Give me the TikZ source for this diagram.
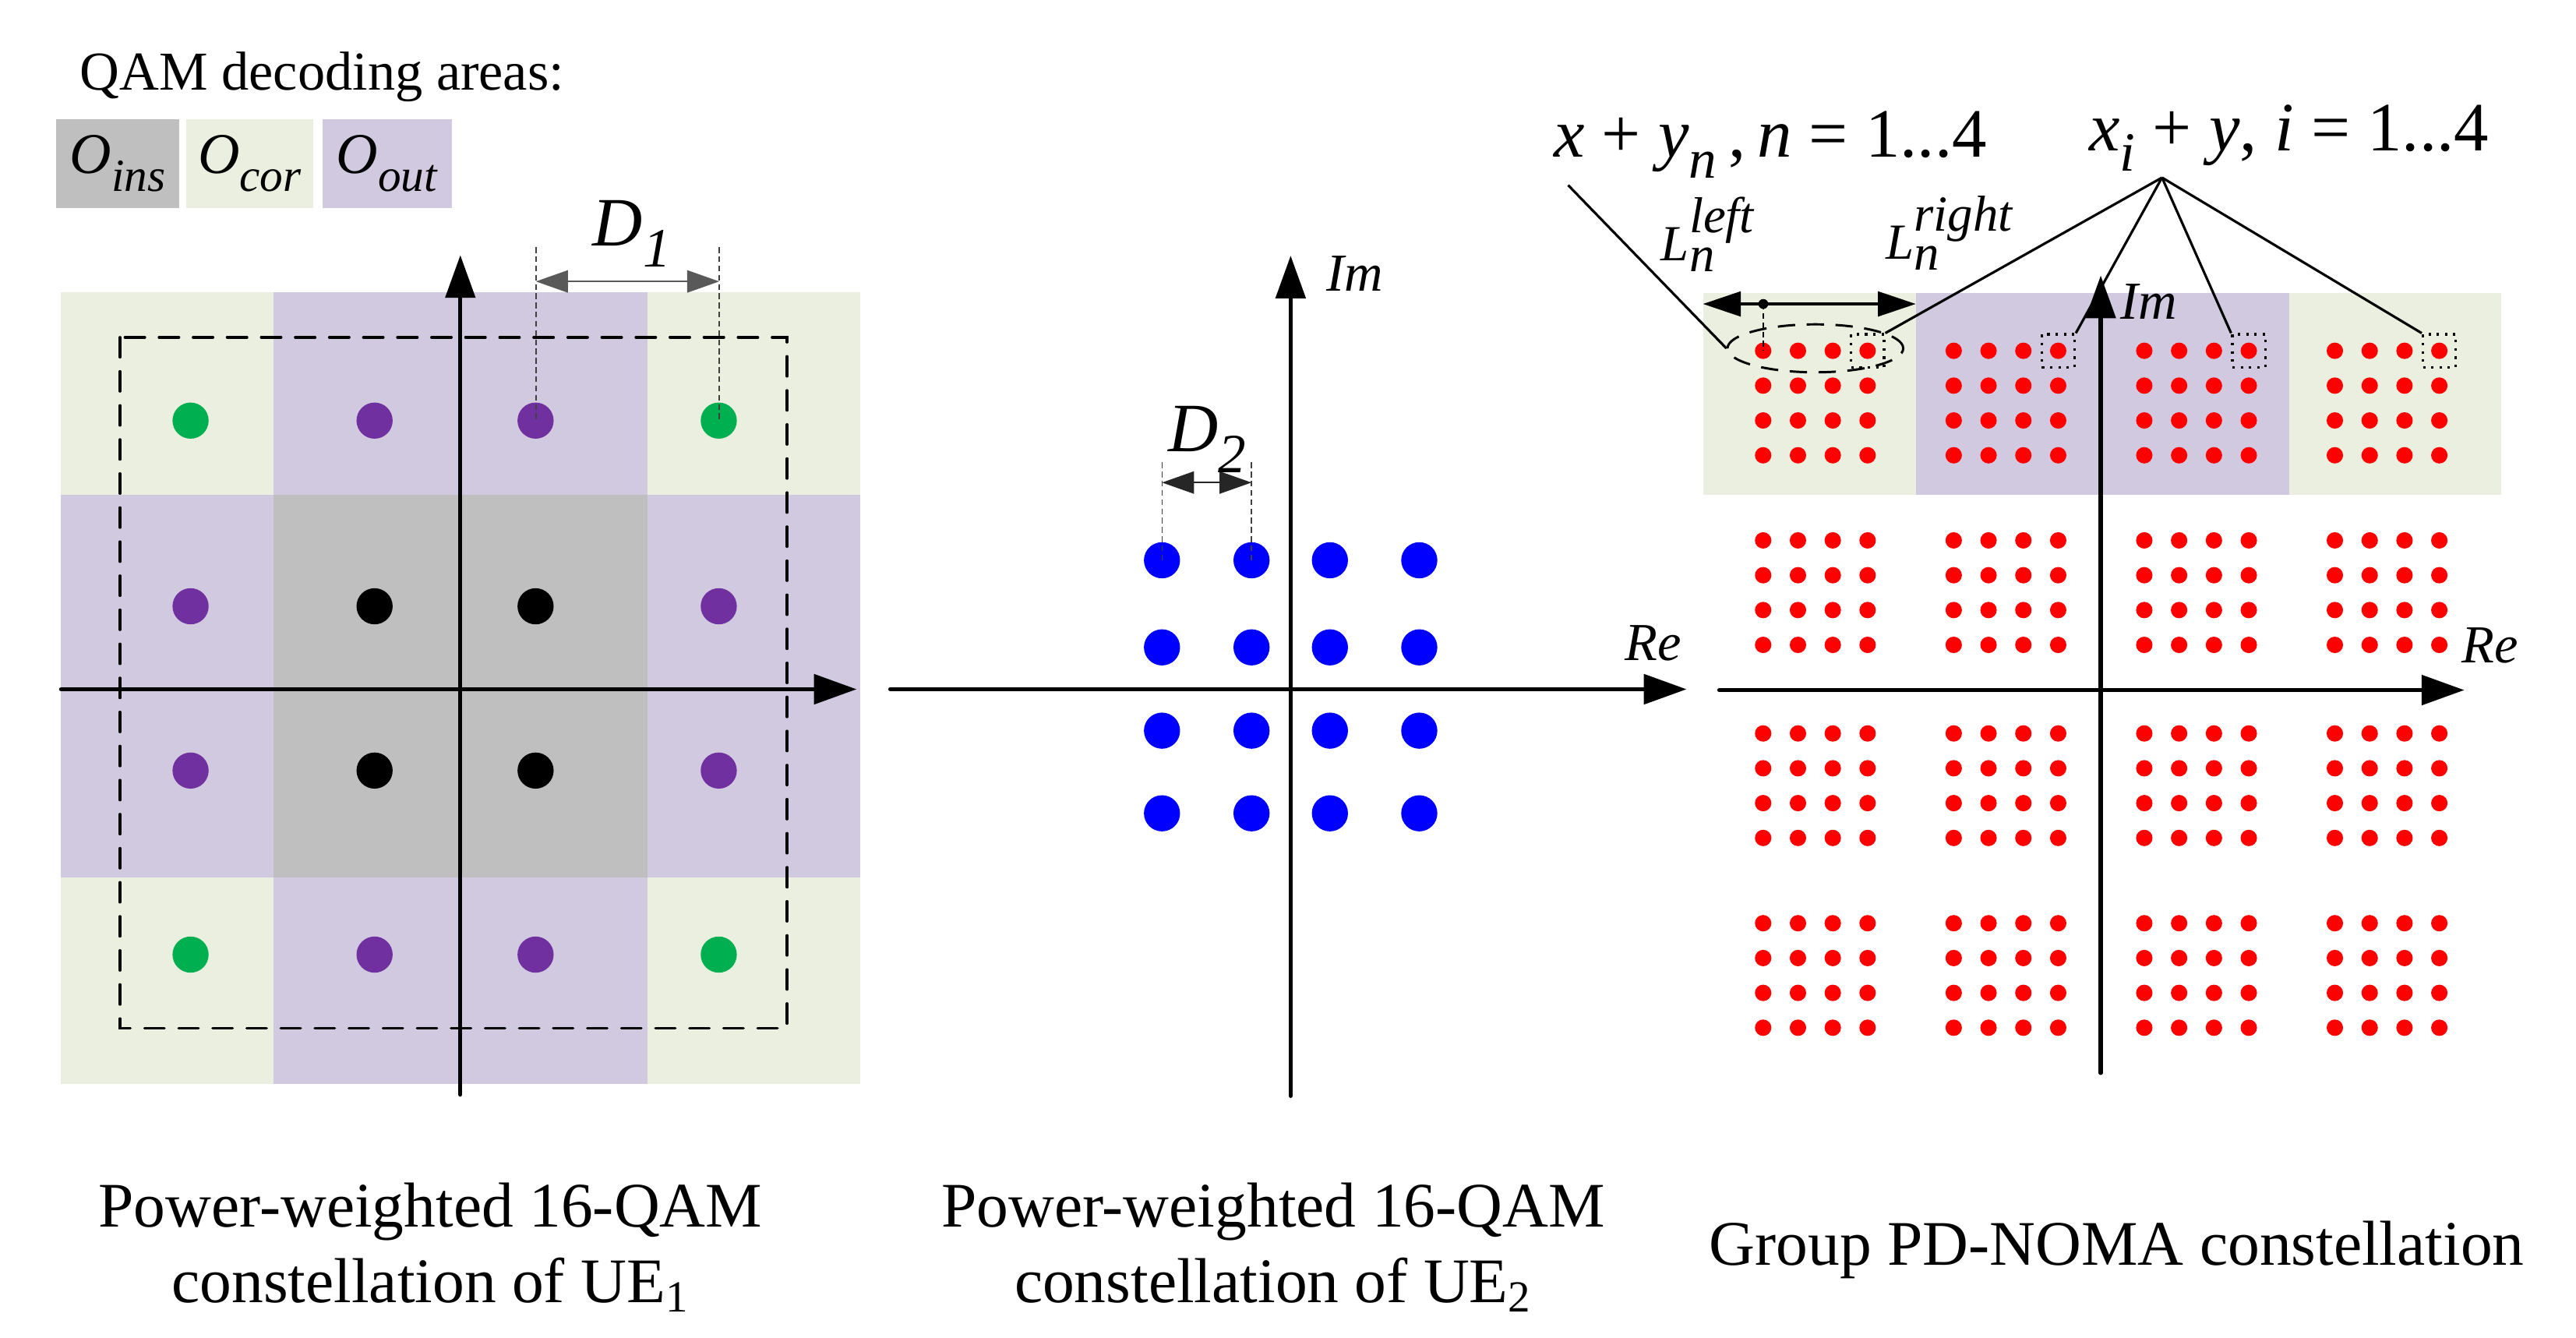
\documentclass[tikz,border=0pt]{standalone}
\usepackage{fontspec}
\setmainfont{Liberation Serif}
\usetikzlibrary{arrows.meta,shapes.geometric}

\definecolor{areaIns}{HTML}{BFBFBF}
\definecolor{areaCor}{HTML}{EBEFDF}
\definecolor{areaOut}{HTML}{D1C9DF}
\definecolor{dotGreen}{HTML}{00B050}
\definecolor{dotPurple}{HTML}{7030A0}

\newcommand{\lowtext}[1]{\raisebox{-0.3em}{\scalebox{0.8}{#1}}}

\begin{document}
\begin{tikzpicture}[x=0.02cm, y=-0.02cm,
    axis/.style={line width=0.05cm, line cap=round, -{Triangle[length=0.52cm,width=0.36cm]}},
    dimline/.style={line width=0.02cm, draw=black!65,
        {Triangle[length=0.39cm,width=0.27cm]}-{Triangle[length=0.39cm,width=0.27cm]}},
    guide/.style={draw=black!75, line width=0.4pt, dash pattern=on 2pt off 1.2pt},
    decbox/.style={line width=0.032cm, line cap=round, dash pattern=on 6.9pt off 4.9pt},
    leader/.style={line width=0.03cm},
    selbox/.style={draw, line width=0.03cm, dotted, minimum size=0.4cm, inner sep=0pt},
    grpell/.style={draw, ellipse, line width=0.028cm, dash pattern=on 6pt off 4pt,
        minimum width=2.14cm, minimum height=0.584cm, inner sep=0pt},
    lspan/.style={line width=0.035cm,
        {Triangle[length=0.46cm,width=0.30cm]}-{Triangle[length=0.46cm,width=0.30cm]}},
    legbox/.style={minimum height=1.08cm, inner sep=0pt, font=\fontsize{20}{24}\selectfont},
    lblbig/.style={inner sep=0pt, anchor=base west, font=\fontsize{24}{28}\selectfont},
    lblax/.style={inner sep=0pt, anchor=base west, font=\fontsize{18.5}{22}\selectfont},
    lblL/.style={inner sep=0pt, anchor=base west, font=\fontsize{17.5}{21}\selectfont},
    caption/.style={inner sep=0pt, anchor=base, align=center, font=\fontsize{22}{26.4}\selectfont}
]
\useasboundingbox (0,0) rectangle (1568,814);

% legend of the decoding areas
\path (48.3,54.6) node[inner sep=0pt, anchor=base west, font=\fontsize{19}{23}\selectfont] (head) {QAM decoding areas:};
\node[legbox, fill=areaIns, minimum width=1.494cm] (oIns) at (71.7,99.5) {\textit{O}\lowtext{\textit{ins}}};
\node[legbox, fill=areaCor, minimum width=1.546cm] (oCor) at (152,99.5) {\textit{O}\lowtext{\textit{cor}}};
\node[legbox, fill=areaOut, minimum width=1.572cm] (oOut) at (235.6,99.5) {\textit{O}\lowtext{\textit{out}}};

% UE1 constellation
\fill[areaCor] (37.2,178) rectangle (523.4,659.7);
\fill[areaOut] (166.5,178) rectangle (394.2,659.7);
\fill[areaOut] (37.2,301.2) rectangle (523.4,534);
\fill[areaIns] (166.5,301.2) rectangle (394.2,534);
\draw[decbox] (73,205.3) rectangle (479.1,625.7);

\foreach \x/\y/\c in {116/256/dotGreen, 228/256/dotPurple, 326/256/dotPurple, 437.5/256/dotGreen,
                      116/369/dotPurple, 228/369/black, 326/369/black, 437.5/369/dotPurple,
                      116/469/dotPurple, 228/469/black, 326/469/black, 437.5/469/dotPurple,
                      116/581/dotGreen, 228/581/dotPurple, 326/581/dotPurple, 437.5/581/dotGreen}
{
    \fill[\c] (\x,\y) circle (0.22cm);
}

\draw[axis] (280.2,666.2) -- (280.2,155.3);
\draw[axis] (37.2,419.5) -- (521.4,419.5);

\draw[guide] (326.2,150.4) -- (326.2,256);
\draw[guide] (437.8,150.4) -- (437.8,256);
\draw[dimline] (326.2,171.3) -- (437.8,171.3);
\path (360.5,149.8) node[lblbig] (dA) {\textit{D}\lowtext{\textit{1}}};

% UE2 constellation
\foreach \x in {707.3, 761.8, 809.5, 863.9}
{
    \foreach \y in {341, 394, 444.7, 495}
    {
        \fill[blue] (\x,\y) circle (0.22cm);
    }
}

\draw[axis] (541.9,419.5) -- (1026.6,419.5);
\draw[axis] (785.6,667) -- (785.6,155.6);

\draw[guide] (707.3,281.4) -- (707.3,341);
\draw[guide] (761.8,281.4) -- (761.8,341);
\draw[dimline, draw=black!85] (707.3,293.7) -- (761.8,293.7);
\path (710.6,275) node[lblbig] (dB) {\textit{D}\lowtext{\textit{2}}};

\path (807,177) node[lblax] (imB) {\textit{Im}};
\path (988.6,402) node[lblax] (reB) {\textit{Re}};

% group PD-NOMA constellation
\fill[areaCor] (1036.6,178.2) rectangle (1522.6,301);
\fill[areaOut] (1166.1,178.2) rectangle (1393.5,301);

\foreach \cx in {1105, 1221, 1337, 1453}
{
    \foreach \cy in {245.3, 360.7, 478.2, 593.7}
    {
        \foreach \dx in {-31.8, -10.6, 10.6, 31.8}
        {
            \foreach \dy in {-31.8, -10.6, 10.6, 31.8}
            {
                \fill[red] (\cx+\dx,\cy+\dy) circle (0.1cm);
            }
        }
    }
}

\draw[axis] (1046.5,420) -- (1500,420);
\draw[axis] (1278.7,653) -- (1278.7,167.7);
\path (1290.6,194) node[lblax] (imC) {\textit{Im}};
\path (1498,403.2) node[lblax] (reC) {\textit{Re}};

\node[grpell] (grp) at (1105,212) {};
\foreach \cx [count=\i] in {1136.8, 1252.8, 1368.8, 1484.8}
{
    \node[selbox] (sq\i) at (\cx,213.5) {};
}

\draw[lspan] (1036.6,185) -- (1166.1,185);
\fill (1073.3,185) circle (0.06cm);
\draw[guide, draw=black, line width=0.5pt] (1073.3,185) -- (1073.3,213.5);
\path (1010.8,158.5) node[lblL] (lLeft) {$\textit{L}^{\textit{left}}_{\textit{n}}$};
\path (1147.6,157.6) node[lblL] (lRight) {$\textit{L}^{\textit{right}}_{\textit{n}}$};

\path (945.5,95.7) node[lblbig] (sumN) {\textit{x} + \textit{y}\lowtext{\textit{n}}\,,\,\textit{n} = 1...4};
\path (1271.4,91.6) node[lblbig] (sumI) {\textit{x}\lowtext{\textit{i}} + \textit{y}, \textit{i} = 1...4};
\coordinate (tipN) at (954.5,112.7);
\coordinate (tipI) at (1316,108.1);
\draw[leader] (tipN) -- (grp.west);
\foreach \k/\a in {1/north east, 2/north east, 3/north west, 4/north west}
{
    \draw[leader] (tipI) -- (sq\k.\a);
}

% captions
\path (262,793) node[caption] (capA) {Power-weighted 16-QAM\\constellation of UE\textsubscript{1}};
\path (775,793) node[caption] (capB) {Power-weighted 16-QAM\\constellation of UE\textsubscript{2}};
\path (1288.5,770) node[caption] (capC) {Group PD-NOMA constellation};

\end{tikzpicture}
\end{document}
